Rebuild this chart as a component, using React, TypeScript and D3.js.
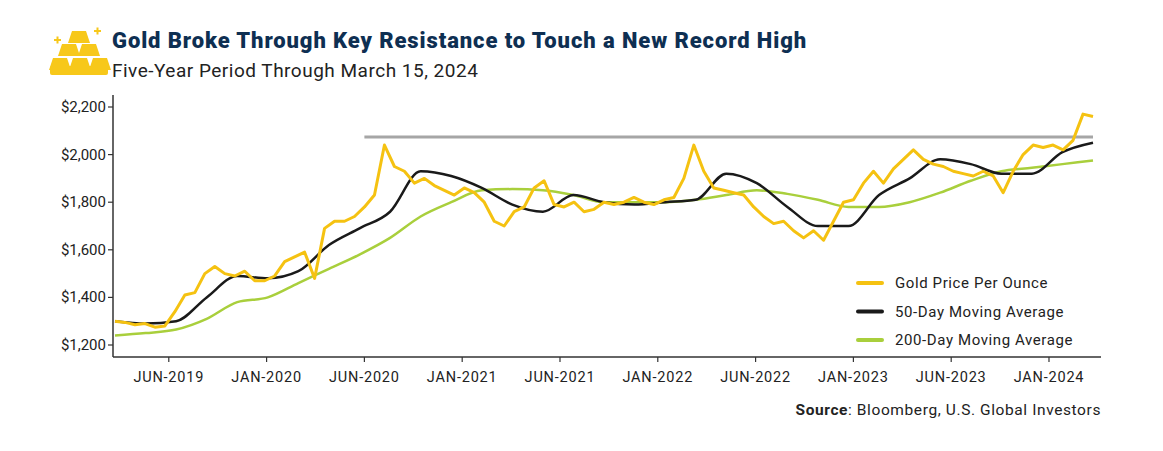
import * as d3 from "d3";

// evenly spaced samples, Mar 2019 → Mar 15 2024
const gold = [1300, 1295, 1285, 1290, 1275, 1280, 1340, 1410, 1420, 1500, 1530, 1500, 1490, 1510, 1470, 1470,
  1490, 1550, 1570, 1590, 1480, 1690, 1720, 1720, 1740, 1780, 1830, 2040, 1950, 1930, 1880, 1900, 1870, 1850,
  1830, 1860, 1840, 1800, 1720, 1700, 1760, 1780, 1860, 1890, 1790, 1780, 1800, 1760, 1770, 1800, 1790, 1800,
  1820, 1800, 1790, 1810, 1820, 1900, 2040, 1930, 1860, 1850, 1840, 1830, 1780, 1740, 1710, 1720, 1680, 1650,
  1680, 1640, 1720, 1800, 1810, 1880, 1930, 1880, 1940, 1980, 2020, 1980, 1960, 1950, 1930, 1920, 1910, 1930,
  1910, 1840, 1930, 2000, 2040, 2030, 2040, 2020, 2060, 2170, 2160];
const ma50 = [1300, 1290, 1300, 1400, 1490, 1480, 1510, 1620, 1690, 1760, 1930, 1910, 1860, 1790, 1760, 1830,
  1800, 1790, 1800, 1810, 1920, 1880, 1780, 1700, 1700, 1830, 1900, 1980, 1960, 1920, 1920, 2010, 2050];
const ma200 = [1240, 1250, 1265, 1310, 1380, 1400, 1460, 1520, 1580, 1650, 1740, 1800, 1850, 1855, 1850, 1830,
  1800, 1800, 1800, 1810, 1830, 1850, 1835, 1810, 1780, 1780, 1800, 1840, 1890, 1930, 1945, 1960, 1975];
const resistance = 2074;
const tickLabels = ["JUN-2019", "JAN-2020", "JUN-2020", "JAN-2021", "JUN-2021", "JAN-2022", "JUN-2022",
  "JAN-2023", "JUN-2023", "JAN-2024"];
const yTicks = [1200, 1400, 1600, 1800, 2000, 2200];
const legend = [
  { label: "Gold Price Per Ounce", color: "#f5c211" },
  { label: "50-Day Moving Average", color: "#1a1a1a" },
  { label: "200-Day Moving Average", color: "#a9cf3c" },
];

const W = 1163, H = 451;
const left = 113, right = 1093, top = 95, bottom = 357;

function Bar({ cx, cy }: { cx: number; cy: number }) {
  return <path d={`M${cx - 7},${cy - 6} h14 l4,12 h-22 z`} />;
}

export default function App() {
  const x = d3.scaleLinear().domain([0, 10]).range([left + 2, right]);
  const y = d3.scaleLinear().domain([1200, 2200]).range([345, 107]);
  const lineOf = (vals: number[]) =>
    d3.line<number>().x((_, i) => x((i / (vals.length - 1)) * 10)).y((v) => y(v)).curve(d3.curveMonotoneX)(vals) ?? "";
  const font = "Roboto, 'Liberation Sans', sans-serif";
  return (
    <svg width={W} height={H} style={{ position: "absolute", left: 0, top: 0 }} fontFamily={font}>
      <rect width={W} height={H} fill="#fff" />
      {/* gold bars icon */}
      <g fill="#f7c81a">
        <Bar cx={79} cy={37} />
        <Bar cx={69} cy={50} />
        <Bar cx={89} cy={50} />
        <Bar cx={60} cy={64} />
        <Bar cx={80} cy={64} />
        <Bar cx={100} cy={64} />
        <rect x={50} y={66} width={58} height={9} rx={2} />
        <path d="M54,40 h7 M57.5,36.5 v7 M94,31 h7 M97.5,27.5 v7" stroke="#f7c81a" strokeWidth={2} />
      </g>
      <text x={112} y={48} fontSize={22} fontWeight={900} fill="#0e2f52" letterSpacing={0.9}>
        Gold Broke Through Key Resistance to Touch a New Record High
      </text>
      <text x={112} y={77} fontSize={19} fill="#222" letterSpacing={0.5}>Five-Year Period Through March 15, 2024</text>

      <line x1={left} x2={left} y1={top} y2={bottom} stroke="#333" strokeWidth={1.5} />
      <line x1={left} x2={right + 8} y1={bottom} y2={bottom} stroke="#333" strokeWidth={1.5} />
      {yTicks.map((t) => (
        <g key={t}>
          <line x1={left - 5} x2={left} y1={y(t)} y2={y(t)} stroke="#333" strokeWidth={1.2} />
          <text x={left - 7} y={y(t) + 5} textAnchor="end" fontSize={15} fill="#222">
            ${d3.format(",")(t)}
          </text>
        </g>
      ))}
      {tickLabels.map((l, i) => (
        <g key={l}>
          <line x1={x(0.55 + i)} x2={x(0.55 + i)} y1={bottom} y2={bottom + 5} stroke="#333" strokeWidth={1.2} />
          <text x={x(0.55 + i)} y={bottom + 25} textAnchor="middle" fontSize={14.5} fill="#222" letterSpacing={0.8}>{l}</text>
        </g>
      ))}
      <line x1={x(2.55)} x2={right} y1={y(resistance)} y2={y(resistance)} stroke="#a6a6a6" strokeWidth={3} />
      <path d={lineOf(ma200)} fill="none" stroke={legend[2].color} strokeWidth={2.5} />
      <path d={lineOf(ma50)} fill="none" stroke={legend[1].color} strokeWidth={2.5} />
      <path d={d3.line<number>().x((_, i) => x((i / (gold.length - 1)) * 10)).y((v) => y(v))(gold) ?? ""}
        fill="none" stroke={legend[0].color} strokeWidth={3} strokeLinejoin="round" />
      {legend.map((d, i) => (
        <g key={d.label} transform={`translate(858,${283 + i * 28.5})`}>
          <line x1={0} x2={24} y1={0} y2={0} stroke={d.color} strokeWidth={4} strokeLinecap="round" />
          <text x={37} y={5} fontSize={15} fill="#222" letterSpacing={0.6}>{d.label}</text>
        </g>
      ))}
      <text x={1101} y={415} textAnchor="end" fontSize={15.5} fill="#222" letterSpacing={0.6}>
        <tspan fontWeight={700}>Source</tspan>: Bloomberg, U.S. Global Investors
      </text>
    </svg>
  );
}
